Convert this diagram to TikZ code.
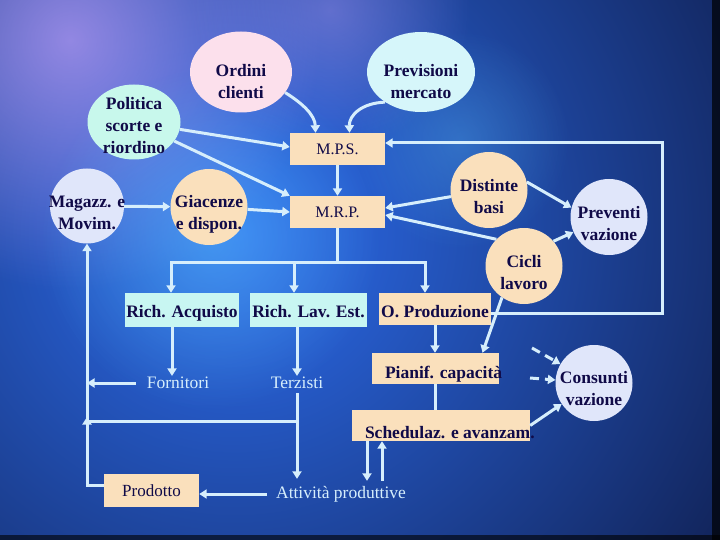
\documentclass[tikz,border=0pt]{standalone}
\usepackage{fontspec}
\setmainfont{Liberation Serif}
\usetikzlibrary{shapes.geometric,arrows.meta,calc,fadings}
\definecolor{peach}{RGB}{250,224,188}
\definecolor{aqua}{RGB}{200,246,242}
\definecolor{pinkb}{RGB}{252,224,236}
\definecolor{cyanb}{RGB}{214,246,250}
\definecolor{mint}{RGB}{200,248,236}
\definecolor{lav}{RGB}{224,230,250}
\definecolor{navy}{RGB}{16,10,72}
\definecolor{lite}{RGB}{214,238,252}
\definecolor{bgdark}{RGB}{8,10,38}
\definecolor{bgmid}{RGB}{45,110,240}
\definecolor{glowpurple}{RGB}{175,150,240}
\definecolor{glowcyan}{RGB}{90,190,245}
\tikzfading[name=glowfade, inner color=transparent!0, outer color=transparent!100]
\newcommand\ctext[2][-12pt]{\smash{\makebox[0pt]{\raisebox{#1}{\begin{tabular}{@{}c@{}}#2\end{tabular}}}}}
\tikzset{
  bub/.style={ellipse, inner sep=0pt, text=navy, font=\fontsize{17.5}{22}\selectfont\bfseries},
  boxn/.style={rectangle, inner sep=0pt, text=navy, font=\fontsize{17.5}{22}\selectfont\bfseries},
  boxr/.style={rectangle, inner sep=0pt, text=navy, font=\fontsize{16}{22}\selectfont},
  lbl/.style={text=lite, font=\fontsize{17.5}{22}\selectfont, inner sep=1pt},
  ln/.style={draw=lite, line width=3pt},
  arr/.style={ln, -{Triangle[width=9pt,length=7.5pt]}},
  darr/.style={arr, dash pattern=on 9pt off 6pt},
}
\begin{document}
\begin{tikzpicture}[x=1pt,y=-1pt]
\useasboundingbox (0,0) rectangle (720,540);
% background
\begin{scope}
\clip (0,0) rectangle (720,540);
\fill[bgdark] (0,0) rectangle (720,540);
\shade[inner color=bgmid, outer color=bgdark] (235,230) circle (780);
\fill[glowpurple, path fading=glowfade, fill opacity=0.8] (70,40) circle (250);
\fill[glowpurple, path fading=glowfade, fill opacity=0.45] (330,10) circle (140);
\fill[glowcyan, path fading=glowfade, fill opacity=0.5] (210,240) circle (170);
\fill[glowcyan, path fading=glowfade, fill opacity=0.3] (460,140) circle (110);
\fill[black, fill opacity=0.7] (712,0) rectangle (720,540);
\fill[black, fill opacity=0.6] (0,535) rectangle (720,540);
\end{scope}

% bubbles
\node[bub, fill=pinkb, minimum width=102pt, minimum height=81pt] (ord) at (241,72) {\ctext[-15pt]{Ordini\\clienti}};
\node[bub, fill=cyanb, minimum width=108pt, minimum height=80pt] (prv) at (421,72) {\ctext[-15pt]{Previsioni\\mercato}};
\node[bub, fill=mint, minimum width=93pt, minimum height=75pt] (pol) at (134,122) {\ctext[-9pt]{Politica\\scorte e\\riordino}};
\node[bub, fill=lav, minimum width=74pt, minimum height=75pt] (mag) at (87,206) {\ctext{Magazz. e\\Movim.}};
\node[bub, fill=peach, minimum width=77pt, minimum height=76pt] (gia) at (209,207) {\ctext[-11pt]{Giacenze\\e dispon.}};
\node[bub, fill=peach, minimum width=77pt, minimum height=76pt] (dis) at (489,190) {\ctext{Distinte\\basi}};
\node[bub, fill=lav, minimum width=77pt, minimum height=76pt] (pre) at (609,217) {\ctext{Preventi\\vazione}};
\node[bub, fill=peach, minimum width=77pt, minimum height=76pt] (cic) at (524,266) {\ctext{Cicli\\lavoro}};
\node[bub, fill=lav, minimum width=77pt, minimum height=76pt] (con) at (594,383) {\ctext[-11pt]{Consunti\\vazione}};

% boxes
\node[boxr, fill=peach, minimum width=95pt, minimum height=32pt] (mps) at (337.5,149) {M.P.S.};
\node[boxr, fill=peach, minimum width=95pt, minimum height=32pt] (mrp) at (337.5,212) {M.R.P.};
\node[boxn, fill=aqua, minimum width=114pt, minimum height=34pt, text height=14pt, text depth=0pt] (ra) at (182,310) {Rich. Acquisto};
\node[boxn, fill=aqua, minimum width=117pt, minimum height=34pt, text height=14pt, text depth=0pt] (rle) at (308.5,310) {Rich. Lav. Est.};
\node[boxn, fill=peach, minimum width=112pt, minimum height=32pt, text height=16pt, text depth=0pt] (opr) at (435,309) {O. Produzione};
\node[boxn, fill=peach, minimum width=127pt, minimum height=31pt, text height=19pt, text depth=0pt] (pia) at (435.5,368.5) {\makebox[110pt][l]{\hspace*{4.5pt}Pianif. capacità}};
\node[boxn, fill=peach, minimum width=178pt, minimum height=31pt, text height=25pt, text depth=0pt] (sch) at (441,425.5) {\makebox[160pt][l]{\hspace*{4pt}Schedulaz. e avanzam.}};
\node[boxr, fill=peach, minimum width=95pt, minimum height=33pt, font=\fontsize{17}{22}\selectfont] (prod) at (151.5,490.5) {Prodotto};

% plain labels
\node[lbl] (forn) at (178,383) {Fornitori};
\node[lbl] (terz) at (297,383) {Terzisti};
\node[lbl] (att) at (341,494) {Attività produttive};

% coordinates
\coordinate (br) at (337.5,262);
\coordinate (fb) at (662,143);
\coordinate (j1) at (297,421);
\coordinate (d1) at (530,378);
\coordinate (d2) at (532,348);

% connectors top
\draw[arr] (ord.-25) .. controls (302,103) and (315,115) .. ([xshift=-22pt]mps.north);
\draw[arr] (prv.-140) .. controls (362,103) and (349,115) .. ([xshift=12pt]mps.north);
\draw[arr] (pol) -- ([yshift=2pt]mps.west);
\draw[arr] (pol) -- (mrp.north west);
\draw[arr] (mag) -- (gia);
\draw[arr] (gia) -- (mrp.west);
\draw[arr] (mps) -- (mrp);
\draw[arr] (dis) -- ([yshift=4pt]mrp.east);
\draw[arr] (cic.136) -- ([yshift=-3pt]mrp.east);
\draw[arr] (dis.12) -- (pre.166);
\draw[arr] (cic.40) -- (pre.203);

% feedback to MPS
\draw[arr] ([yshift=-4pt]opr.east) -| (fb) -- ([yshift=6pt]mps.east);

% MRP branching
\draw[ln] (mrp.south) -- (br);
\draw[arr] (br) -| ([xshift=-11pt]ra.north);
\draw[arr] (br) -| ([xshift=-14.5pt]rle.north);
\draw[arr] (br) -| ([xshift=-10pt]opr.north);

% lower left
\draw[arr] ([xshift=-10pt]ra.south) -- ([xshift=-10pt]ra.south |- forn.north);
\draw[arr] (rle.south -| terz) -- (terz);
\draw[arr, shorten <=10pt] (forn.west) -- (forn.west -| mag.south);
\draw[arr, shorten >=6pt, shorten <=3pt] (terz) -- (terz |- att.north);
\draw[arr] (j1) -| ($(j1 -| mag.south)+(0,-4)$);
\draw[arr] ([yshift=5pt]prod.west) -| (mag.south);
\draw[arr, shorten <=8pt] (att.west) -- (att.west -| prod.east);

% production chain
\draw[arr] (opr.south) -- (opr.south |- pia.north);
\draw[arr] (cic.235) -- ([xshift=47pt]pia.north);
\draw[ln] (pia.south) -- (pia.south |- sch.north);
\draw[arr, shorten >=4pt] ([xshift=-74pt]sch.south) -- ([xshift=-74pt]sch.south |- att.north);
\draw[arr, shorten <=4pt] ([xshift=-59pt]sch.south |- att.north) -- ([xshift=-59pt]sch.south);
\draw[arr] (sch.east) -- (con.213);
\draw[darr] (d1) -- (con);
\draw[darr] (d2) -- (con);
\end{tikzpicture}
\end{document}
